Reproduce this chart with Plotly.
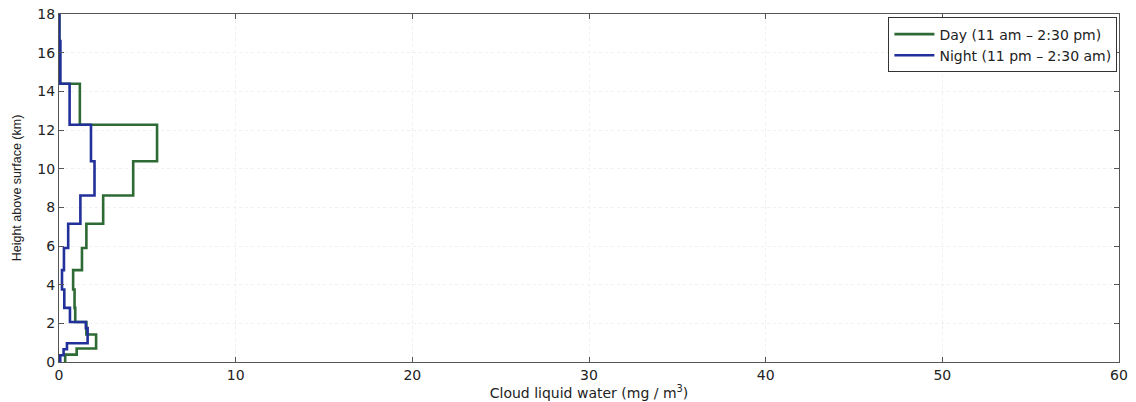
import plotly.graph_objects as go

# Day profile (11 am - 2:30 pm): layer boundaries (km) and layer values (mg/m^3)
day_heights = [0, 0.38, 0.70, 1.42, 2.07, 2.80, 3.75, 4.75, 5.90, 7.15, 8.61, 10.38, 12.27, 14.39, 18]
day_values = [0.35, 1.0, 2.1, 1.55, 0.92, 0.88, 0.80, 1.30, 1.55, 2.5, 4.2, 5.55, 1.18, 0.02]

# Night profile (11 pm - 2:30 am)
night_heights = [0, 0.35, 0.66, 0.97, 1.75, 2.07, 2.80, 3.75, 4.75, 5.90, 7.15, 8.61, 10.38, 12.27, 14.39, 16.6, 18]
night_values = [0.07, 0.26, 0.45, 1.62, 1.52, 0.62, 0.30, 0.17, 0.28, 0.52, 1.21, 2.01, 1.81, 0.6, 0.08, 0.02]

x_ticks = [0, 10, 20, 30, 40, 50, 60]
y_ticks = [0, 2, 4, 6, 8, 10, 12, 14, 16, 18]

FONT = "DejaVu Sans, Liberation Sans, Arial, sans-serif"


def step_points(heights, values):
    xs = list(values) + [values[-1]]
    ys = list(heights)
    return xs, ys


fig = go.Figure()
dx, dy = step_points(day_heights, day_values)
nx, ny = step_points(night_heights, night_values)
fig.add_trace(go.Scatter(x=dx, y=dy, mode="lines", line_shape="vh",
                         line=dict(color="#2d6a34", width=2.6),
                         name="Day (11 am \u2013 2:30 pm)"))
fig.add_trace(go.Scatter(x=nx, y=ny, mode="lines", line_shape="vh",
                         line=dict(color="#22309a", width=2.6),
                         name="Night (11 pm \u2013 2:30 am)"))

axis_common = dict(
    showline=True, linecolor="#555555", linewidth=1, mirror="ticks",
    ticks="inside", ticklen=5, tickcolor="#555555",
    showgrid=True, gridcolor="#f0f0f0", griddash="dot", gridwidth=1,
    zeroline=False, automargin=False,
    tickfont=dict(family=FONT, size=14, color="#222222"),
)

fig.update_xaxes(range=[0, 60], tickvals=x_ticks, **axis_common,
                 title=dict(text="Cloud liquid water (mg / m<sup>3</sup>)",
                            font=dict(family=FONT, size=14, color="#222222"),
                            standoff=2))
fig.update_yaxes(range=[0, 18], tickvals=y_ticks, **axis_common,
                 title=dict(text="Height above surface (km)",
                            font=dict(family="Liberation Sans, Arial, sans-serif", size=12.5, color="#222222"),
                            standoff=12))

fig.update_layout(
    width=1136, height=402,
    margin=dict(l=59, r=17, t=14, b=40),
    paper_bgcolor="white", plot_bgcolor="white",
    showlegend=True,
    legend=dict(x=0.9985, y=0.99, xanchor="right", yanchor="top",
                bgcolor="white", bordercolor="#333333", borderwidth=1,
                font=dict(family=FONT, size=14, color="#222222"),
                tracegroupgap=0, itemwidth=40),
)

fig.write_html("out.html", config={"displayModeBar": False},
               post_script="document.body.style.margin='0';")
